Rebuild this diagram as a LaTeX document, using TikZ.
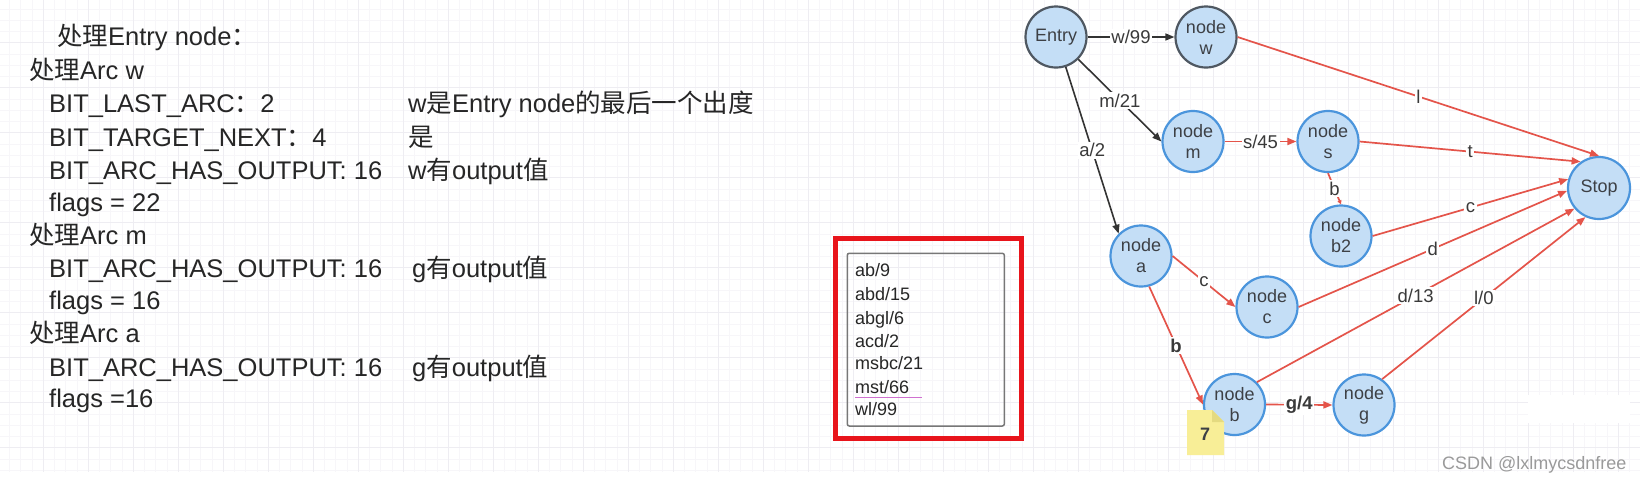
\documentclass[tikz,border=0pt]{standalone}
\usepackage{fontspec}
\setmainfont{Liberation Sans}
\newfontfamily\cjk{Noto Sans CJK SC}
\usetikzlibrary{arrows.meta}
\definecolor{txt}{HTML}{262626}
\definecolor{ltext}{HTML}{3A3A3A}
\definecolor{ntext}{HTML}{3D4045}
\definecolor{nfill}{HTML}{C4DEF6}
\definecolor{nblue}{HTML}{4B95DC}
\definecolor{ndark}{HTML}{4F5862}
\definecolor{edgeblk}{HTML}{333333}
\definecolor{edgered}{HTML}{E4544A}
\definecolor{boxred}{HTML}{E8141B}
\definecolor{boxgray}{HTML}{777777}
\definecolor{gminor}{RGB}{247,246,249}
\definecolor{gmajor}{RGB}{238,237,242}
\definecolor{notefill}{HTML}{F8EE97}
\definecolor{notefold}{HTML}{E4DA80}
\definecolor{wmark}{HTML}{9A9A9A}
\definecolor{squig}{HTML}{D070D0}
\newcommand{\zhtxt}[1]{{\cjk #1}}
\tikzset{
  gnode/.style={circle, minimum size=61pt, inner sep=0pt, fill=nfill, draw=nblue, line width=2.2pt, align=center, font=\fontsize{18}{21}\selectfont, text=ntext},
  gdark/.style={gnode, draw=ndark},
  blk/.style={draw=edgeblk, line width=1.6pt, -{Triangle[length=9pt,width=7pt]}},
  redge/.style={draw=edgered, line width=1.7pt, -{Triangle[length=9pt,width=7pt]}},
  lbl/.style={fill=white, inner sep=1.5pt, font=\fontsize{18.5}{18.5}\selectfont, text=ltext},
  ltxt/.style={anchor=base west, inner sep=0pt, font=\fontsize{25.5}{28}\selectfont, text=txt},
  boxtxt/.style={anchor=base west, inner sep=0pt, font=\fontsize{18}{20}\selectfont, text=txt},
  gridminor/.style={draw=gminor, line width=0.9pt},
  gridmajor/.style={draw=gmajor, line width=1.3pt}
}
\begin{document}
\begin{tikzpicture}[x=1pt,y=-1pt]
\useasboundingbox (0,0) rectangle (1640,483);
\fill[white] (0,0) rectangle (1640,483);
% background grid
\foreach \i in {0,...,146} {\draw[gridminor] ({\i*11.25-1.7},0) -- ({\i*11.25-1.7},472);}
\foreach \i in {0,...,42} {\draw[gridminor] (0,{\i*11.25-2.3}) -- (1640,{\i*11.25-2.3});}
\foreach \i in {0,...,36} {\draw[gridmajor] ({\i*45-1.7},0) -- ({\i*45-1.7},472);}
\foreach \i in {0,...,10} {\draw[gridmajor] (0,{\i*45-2.3}) -- (1640,{\i*45-2.3});}
\fill[white] (1528,395) rectangle (1630,423);

% left text
\node[ltxt] (t1) at (57,45.7) {\zhtxt{处理}Entry node\zhtxt{：}};
\node[ltxt] (t2) at (29,79) {\zhtxt{处理}Arc w};
\node[ltxt] (t3) at (49,112) {BIT\_LAST\_ARC\zhtxt{：}2};
\node[ltxt] (t3b) at (408,112) {w\zhtxt{是}Entry node\zhtxt{的最后一个出度}};
\node[ltxt] (t4) at (49,146) {BIT\_TARGET\_NEXT\zhtxt{：}4};
\node[ltxt] (t4b) at (408,146) {\zhtxt{是}};
\node[ltxt] (t5) at (49,179) {BIT\_ARC\_HAS\_OUTPUT: 16};
\node[ltxt] (t5b) at (408,179) {w\zhtxt{有}output\zhtxt{值}};
\node[ltxt] (t6) at (49,211) {flags = 22};
\node[ltxt] (t7) at (29,244) {\zhtxt{处理}Arc m};
\node[ltxt] (t8) at (49,277) {BIT\_ARC\_HAS\_OUTPUT: 16};
\node[ltxt] (t8b) at (412,277) {g\zhtxt{有}output\zhtxt{值}};
\node[ltxt] (t9) at (49,309) {flags = 16};
\node[ltxt] (t10) at (29,342) {\zhtxt{处理}Arc a};
\node[ltxt] (t11) at (49,376) {BIT\_ARC\_HAS\_OUTPUT: 16};
\node[ltxt] (t11b) at (412,376) {g\zhtxt{有}output\zhtxt{值}};
\node[ltxt] (t12) at (49,407) {flags =16};

% red framed box
\draw[boxred, line width=5pt] (835,238.5) rectangle (1021.5,438);
\draw[boxgray, line width=1.5pt, rounded corners=2pt] (847.3,253.3) rectangle (1004.3,426);
\node[boxtxt] (k1) at (855,276.5) {ab/9};
\node[boxtxt] (k2) at (855,300.2) {abd/15};
\node[boxtxt] (k3) at (855,324.8) {abgl/6};
\node[boxtxt] (k4) at (855,347.2) {acd/2};
\node[boxtxt] (k5) at (855,369.8) {msbc/21};
\node[boxtxt] (k6) at (855,393.2) {mst/66};
\node[boxtxt] (k7) at (855,415.8) {wl/99};
\draw[squig, line width=0.8pt] (855,397.5) -- (921.7,397.5);

% graph nodes
\node[gdark] (Entry) at (1056,37) {Entry};
\node[gdark] (w) at (1206,37) {node\\w};
\node[gnode] (m) at (1193,141.5) {node\\m};
\node[gnode] (s) at (1328,141.5) {node\\s};
\node[gnode] (b2) at (1341,236) {node\\b2};
\node[gnode] (a) at (1141,256) {node\\a};
\node[gnode] (c) at (1267,307) {node\\c};
\node[gnode] (b) at (1234.5,404.5) {node\\b};
\node[gnode] (g) at (1364,405) {node\\g};
\node[gnode, minimum size=62pt] (Stop) at (1599,188) {Stop};

% edges
\draw[blk] (Entry) -- node[lbl]{w/99} (w);
\draw[blk] (Entry.-45) -- node[lbl]{m/21} (m.west);
\draw[blk] (Entry.-72) -- node[lbl]{a/2} (a.135);
\draw[redge] (m) -- node[lbl]{s/45} (s);
\draw[redge] (w.east) -- node[lbl]{l} (Stop.north);
\draw[redge] (s.east) -- node[lbl]{t} (Stop.125);
\draw[redge, -{Triangle[length=4pt,width=4pt]}] (s.south) -- node[lbl]{b} (b2.north);
\draw[redge] (b2.east) -- node[lbl]{c} (Stop.164);
\draw[redge] (a.east) -- node[lbl]{c} (c.west);
\draw[redge] (a.-75) -- node[lbl, font=\fontsize{18.5}{18.5}\selectfont\bfseries]{b} (b.west);
\draw[redge] (c.east) -- node[lbl]{d} (Stop.185);
\draw[redge] (b.45) -- node[lbl]{d/13} (Stop.220);
\draw[redge] (b.east) -- node[lbl, font=\fontsize{18.5}{18.5}\selectfont\bfseries]{g/4} (g.west);
\draw[redge] (g.55) -- node[lbl]{l/0} (Stop.245);

% sticky note
\fill[notefill] (1187,410) -- (1212,410) -- (1224,422) -- (1224,455) -- (1187,455) -- cycle;
\fill[notefold] (1212,410) -- (1212,422) -- (1224,422) -- cycle;
\node[font=\fontsize{18}{18}\selectfont\bfseries, text=ntext] (note) at (1205,434) {7};

% watermark
\node[anchor=base west, inner sep=0pt, font=\fontsize{18}{18}\selectfont, text=wmark] (wm) at (1442,469) {CSDN @lxlmycsdnfree};
\end{tikzpicture}
\end{document}
